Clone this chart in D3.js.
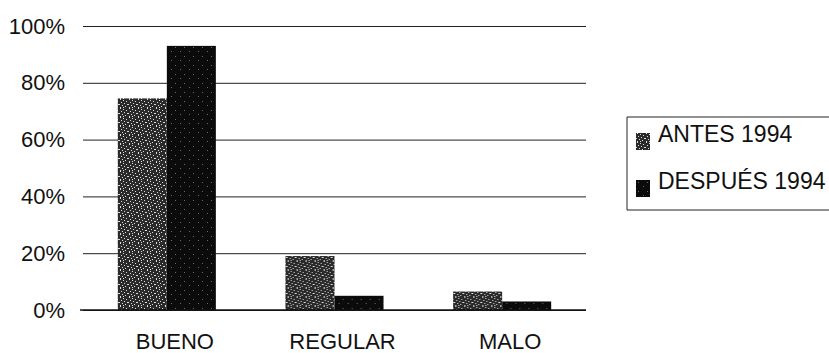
<!DOCTYPE html>
<html>
<head>
<meta charset="utf-8">
<script src="https://cdn.jsdelivr.net/npm/d3@7"></script>
<style>
  html, body { margin: 0; padding: 0; background: #fff; }
  svg { display: block; font-family: "Liberation Sans", Arial, sans-serif; }
</style>
</head>
<body>
<svg id="chart" width="829" height="353"></svg>
<script>
// Condition ratings before and after 1994 (share of total)
const categories = ["BUENO", "REGULAR", "MALO"];
const seriesNames = ["ANTES 1994", "DESPUÉS 1994"];
const antes = [0.745, 0.19, 0.065];
const despues = [0.93, 0.05, 0.03];
const yTicks = [0, 0.2, 0.4, 0.6, 0.8, 1.0];

const svg = d3.select("#chart");
const plot = { left: 83, right: 586, top: 26, bottom: 310 };
const fontSize = 22;

// Speckled fills that imitate the printed hatching
const defs = svg.append("defs");
function speckle(id, base, dots, dotColor) {
  const p = defs.append("pattern")
    .attr("id", id).attr("patternUnits", "userSpaceOnUse")
    .attr("width", 9).attr("height", 9);
  p.append("rect").attr("width", 9).attr("height", 9).attr("fill", base);
  dots.forEach(([x, y]) => p.append("rect")
    .attr("x", x).attr("y", y).attr("width", 1).attr("height", 1)
    .attr("fill", dotColor));
}
speckle("pAntes", "#2a2a2a",
  [[1,0],[4,1],[7,2],[2,3],[5,4],[0,5],[8,5],[3,6],[6,7],[1,8],[4,8]], "#dcdcdc");
speckle("pDespues", "#0b0b0b", [[2,2],[7,6]], "#6a6a6a");
const fills = ["url(#pAntes)", "url(#pDespues)"];

const x = d3.scaleBand().domain(categories)
  .range([plot.left, plot.right]).paddingInner(0).paddingOuter(0);
const xInner = d3.scaleBand().domain(seriesNames)
  .range([0, x.bandwidth()]).paddingInner(0).paddingOuter(0.71);
const y = d3.scaleLinear().domain([0, 1]).range([plot.bottom, plot.top]);

// Horizontal gridlines with percent labels
const yAxis = d3.axisLeft(y).tickValues(yTicks)
  .tickFormat(d3.format(".0%"))
  .tickSize(-(plot.right - plot.left)).tickPadding(18);
const gy = svg.append("g").attr("transform", `translate(${plot.left},0)`).call(yAxis);
gy.select(".domain").remove();
gy.selectAll(".tick line").attr("stroke", "#222").attr("stroke-width", 1);
gy.selectAll(".tick text").attr("font-size", fontSize).attr("fill", "#111");

// Bars
const rows = categories.map((c, i) => ({ cat: c, vals: [antes[i], despues[i]] }));
const groups = svg.append("g").selectAll("g").data(rows).join("g")
  .attr("transform", d => `translate(${x(d.cat)},0)`);
groups.selectAll("rect")
  .data(d => d.vals.map((v, j) => ({ name: seriesNames[j], v, j })))
  .join("rect")
  .attr("x", d => xInner(d.name))
  .attr("width", xInner.bandwidth())
  .attr("y", d => y(d.v))
  .attr("height", d => y(0) - y(d.v))
  .attr("fill", d => fills[d.j]);

// Baseline
svg.append("line")
  .attr("x1", plot.left - 3).attr("x2", plot.right)
  .attr("y1", y(0)).attr("y2", y(0))
  .attr("stroke", "#111").attr("stroke-width", 1.3);

// Category labels
const xAxis = d3.axisBottom(x).tickSize(0).tickPadding(23);
const gx = svg.append("g").attr("transform", `translate(0,${plot.bottom})`).call(xAxis);
gx.select(".domain").remove();
gx.selectAll(".tick text").attr("font-size", fontSize).attr("fill", "#111").attr("dx", 8);

// Legend (open on the right, as it runs past the page edge)
const lg = svg.append("g").attr("transform", "translate(627,117)");
lg.append("path").attr("d", "M202,0 L0,0 L0,93 L202,93")
  .attr("fill", "none").attr("stroke", "#222").attr("stroke-width", 1);
seriesNames.forEach((name, i) => {
  const row = lg.append("g").attr("transform", `translate(0,${16 + i * 47})`);
  row.append("rect").attr("x", 9).attr("y", 0).attr("width", 14).attr("height", 17)
    .attr("fill", fills[i]);
  row.append("text").attr("x", 31).attr("y", 9)
    .attr("font-size", 23).attr("fill", "#111").text(name);
});
</script>
</body>
</html>
